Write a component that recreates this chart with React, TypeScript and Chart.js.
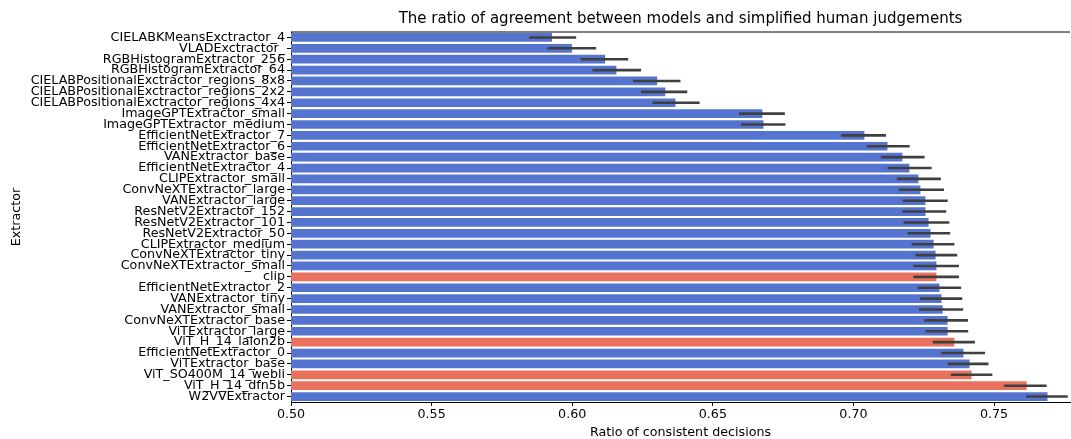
import React, { useEffect, useRef } from "react";
import { Chart, registerables } from "chart.js";

Chart.register(...registerables);

const extractors = [
  "CIELABKMeansExctractor_4",
  "VLADExctractor_",
  "RGBHistogramExtractor_256",
  "RGBHistogramExtractor_64",
  "CIELABPositionalExctractor_regions_8x8",
  "CIELABPositionalExctractor_regions_2x2",
  "CIELABPositionalExctractor_regions_4x4",
  "ImageGPTExtractor_small",
  "ImageGPTExtractor_medium",
  "EfficientNetExtractor_7",
  "EfficientNetExtractor_6",
  "VANExtractor_base",
  "EfficientNetExtractor_4",
  "CLIPExtractor_small",
  "ConvNeXTExtractor_large",
  "VANExtractor_large",
  "ResNetV2Extractor_152",
  "ResNetV2Extractor_101",
  "ResNetV2Extractor_50",
  "CLIPExtractor_medium",
  "ConvNeXTExtractor_tiny",
  "ConvNeXTExtractor_small",
  "clip",
  "EfficientNetExtractor_2",
  "VANExtractor_tiny",
  "VANExtractor_small",
  "ConvNeXTExtractor_base",
  "ViTExtractor_large",
  "ViT_H_14_laion2b",
  "EfficientNetExtractor_0",
  "ViTExtractor_base",
  "ViT_SO400M_14_webli",
  "ViT_H_14_dfn5b",
  "W2VVExtractor",
];

const ratios = [
  0.5928, 0.5999, 0.6117, 0.6157, 0.6302, 0.6331, 0.6367, 0.6676, 0.668,
  0.7039, 0.7121, 0.7174, 0.7199, 0.7231, 0.7238, 0.7256, 0.7256, 0.7267,
  0.7274, 0.7285, 0.7292, 0.7295, 0.7295, 0.7306, 0.7313, 0.7317, 0.7335,
  0.7335, 0.7359, 0.7391, 0.7413, 0.742, 0.7616, 0.769,
];

const errLow = [
  0.5847, 0.5912, 0.6030, 0.6072, 0.6216, 0.6244, 0.6285, 0.6593, 0.6600,
  0.6956, 0.7047, 0.7097, 0.7121, 0.7154, 0.7161, 0.7175, 0.7174, 0.7178,
  0.7192, 0.7207, 0.7220, 0.7213, 0.7213, 0.7228, 0.7236, 0.7233, 0.7252,
  0.7256, 0.7282, 0.7312, 0.7335, 0.7346, 0.7535, 0.7614,
];

const errHigh = [
  0.6014, 0.6085, 0.6199, 0.6245, 0.6385, 0.6409, 0.6453, 0.6756, 0.6758,
  0.7116, 0.7200, 0.7253, 0.7278, 0.7311, 0.7322, 0.7335, 0.7330, 0.7341,
  0.7344, 0.7359, 0.7369, 0.7375, 0.7375, 0.7383, 0.7387, 0.7390, 0.7407,
  0.7408, 0.7432, 0.7468, 0.7480, 0.7494, 0.7687, 0.7762,
];

const highlighted = ["clip", "ViT_H_14_laion2b", "ViT_SO400M_14_webli", "ViT_H_14_dfn5b"];

const xTicks = [0.5, 0.55, 0.6, 0.65, 0.7, 0.75];

const TITLE = "The ratio of agreement between models and simplified human judgements";
const BLUE = "rgb(85,116,207)";
const RED = "rgb(232,114,94)";
const FONT = "'DejaVu Sans', sans-serif";
const FS = 12.7;

export default function App() {
  const ref = useRef<HTMLCanvasElement | null>(null);

  useEffect(() => {
    document.body.style.margin = "0";
    const canvas = ref.current;
    if (!canvas) return;

    const extras = {
      id: "extras",
      afterDatasetsDraw(chart: any) {
        const ctx = chart.ctx;
        const x = chart.scales.x;
        const y = chart.scales.y;
        const a = chart.chartArea;
        ctx.save();
        ctx.strokeStyle = "rgb(63,63,63)";
        ctx.lineWidth = 2.6;
        ctx.lineCap = "butt";
        extractors.forEach((_, i) => {
          const py = y.getPixelForValue(i);
          ctx.beginPath();
          ctx.moveTo(x.getPixelForValue(errLow[i]), py);
          ctx.lineTo(x.getPixelForValue(errHigh[i]), py);
          ctx.stroke();
        });
        // top spine
        ctx.strokeStyle = "#000";
        ctx.lineWidth = 1;
        ctx.beginPath();
        ctx.moveTo(a.left, a.top);
        ctx.lineTo(a.right, a.top);
        ctx.stroke();
        // title centred over plot area
        ctx.fillStyle = "#000";
        ctx.font = `15px ${FONT}`;
        ctx.textAlign = "center";
        ctx.textBaseline = "middle";
        ctx.fillText(TITLE, (a.left + a.right) / 2, 19);
        ctx.restore();
      },
    };

    const chart = new Chart(canvas, {
      type: "bar",
      data: {
        labels: extractors,
        datasets: [
          {
            data: ratios,
            backgroundColor: extractors.map((e) => (highlighted.includes(e) ? RED : BLUE)),
            borderWidth: 0,
            categoryPercentage: 1,
            barPercentage: 0.8,
          },
        ],
      },
      options: {
        indexAxis: "y",
        animation: false,
        responsive: false,
        devicePixelRatio: 1,
        layout: { padding: { left: 0, right: 1, top: 32, bottom: 0 } },
        plugins: {
          legend: { display: false },
          tooltip: { enabled: false },
          title: { display: false },
        },
        scales: {
          x: {
            type: "linear",
            min: 0.5,
            max: 0.777,
            afterBuildTicks(scale: any) {
              scale.ticks = xTicks.map((v) => ({ value: v }));
            },
            afterFit(scale: any) {
              scale.height = 37;
            },
            ticks: {
              color: "#000",
              font: { family: FONT, size: FS },
              padding: 1,
              maxRotation: 0,
              callback: (v: any) => Number(v).toFixed(2),
            },
            grid: {
              display: true,
              drawOnChartArea: false,
              drawTicks: true,
              tickLength: 4,
              color: "#000",
            },
            border: { display: true, color: "#000", width: 1 },
            title: {
              display: true,
              text: "Ratio of consistent decisions",
              color: "#000",
              font: { family: FONT, size: FS, lineHeight: 1 },
              padding: { top: 0, bottom: 0 },
            },
          },
          y: {
            type: "category",
            afterFit(scale: any) {
              scale.width = 291;
            },
            ticks: {
              color: "#000",
              font: { family: FONT, size: FS },
              padding: 2,
              autoSkip: false,
            },
            grid: {
              display: true,
              drawOnChartArea: false,
              drawTicks: true,
              tickLength: 4,
              color: "#000",
              offset: false,
            },
            border: { display: true, color: "#000", width: 1 },
            title: {
              display: true,
              text: "Extractor",
              color: "#000",
              font: { family: FONT, size: FS },
              padding: { top: 9, bottom: 0 },
            },
          },
        },
      },
      plugins: [extras],
    } as any);

    return () => chart.destroy();
  }, []);

  return (
    <div style={{ position: "absolute", left: 0, top: 0, width: 1071, height: 439 }}>
      <canvas ref={ref} width={1071} height={439} style={{ width: 1071, height: 439 }} />
    </div>
  );
}
